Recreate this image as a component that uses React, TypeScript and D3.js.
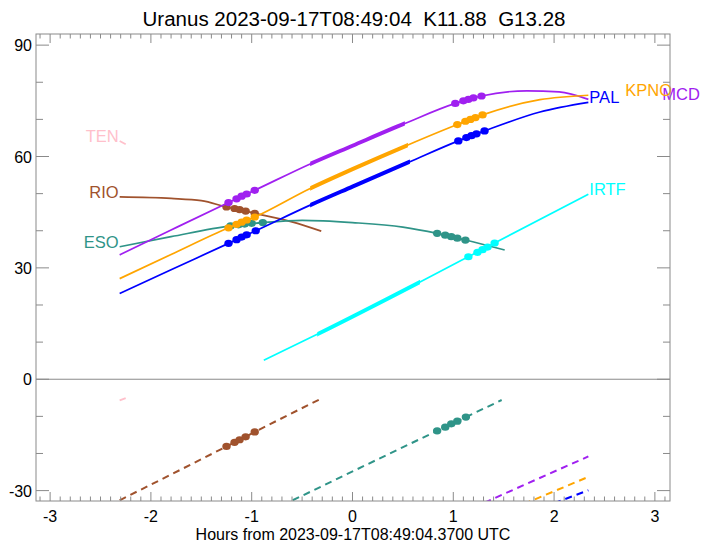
import React from 'react';
import * as d3 from 'd3';

const W = 711;
const H = 544;
const PL = 36, PR = 670, PT = 34, PB = 501;

const TITLE = 'Uranus 2023-09-17T08:49:04\u00A0\u00A0K11.88\u00A0\u00A0G13.28';
const X_TITLE = 'Hours from 2023-09-17T08:49:04.3700 UTC';
const X_MAJOR = [-3, -2, -1, 0, 1, 2, 3];
const Y_MAJOR = [-30, 0, 30, 60, 90];

// elevation curves [hours, degrees]
const TEN_EL = [[-2.31, 64.2], [-2.25, 63.3]];
const RIO_EL = [[-2.31, 49.1], [-1.8, 48.7], [-1.5, 48.1], [-1.25, 46.4], [-0.97, 44.7], [-0.6, 42.4], [-0.31, 39.9]];
const ESO_EL = [[-2.31, 35.7], [-1.8, 38.4], [-1.21, 41.3], [-0.89, 42.2], [-0.5, 42.8], [0, 42.2], [0.5, 41.0], [0.84, 39.3], [1.12, 37.5], [1.51, 34.8]];
const MCD_EL = [[-2.31, 33.5], [-1.8, 40.2], [-1.23, 47.6], [-0.97, 50.9], [-0.42, 58.0], [0, 62.9], [0.52, 68.9], [1.02, 74.3], [1.28, 76.3], [1.73, 77.7], [2.05, 77.4], [2.34, 75.4]];
const KPNO_EL = [[-2.31, 27.1], [-1.8, 33.6], [-1.23, 40.8], [-0.97, 43.7], [-0.42, 51.4], [0, 56.6], [0.55, 63.1], [1.04, 68.6], [1.29, 71.2], [1.86, 75.3], [2.34, 76.5]];
const PAL_EL = [[-2.31, 23.1], [-1.8, 29.5], [-1.23, 36.6], [-0.96, 40.0], [-0.42, 46.9], [0, 51.9], [0.57, 58.6], [1.05, 64.2], [1.31, 66.9], [1.86, 72.0], [2.34, 74.6]];
const IRTF_EL = [[-0.88, 5.1], [-0.35, 12.1], [0.67, 26.2], [1.15, 33.0], [1.41, 36.7], [2.34, 49.8]];

// lower dashed curves
const TEN_LOW = [[-2.31, -5.7], [-2.25, -5.1]];
const RIO_LOW = [[-2.31, -32.6], [-1.25, -18.1], [-0.97, -14.2], [-0.31, -5.2]];
const ESO_LOW = [[-0.7, -34.0], [0.84, -13.9], [1.125, -10.2], [1.48, -5.6]];
const MCD_LOW = [[1.2, -34.6], [1.47, -31.3], [2.34, -20.8]];
const KPNO_LOW = [[1.7, -33.6], [2.34, -26.3]];
const PAL_LOW = [[2.0, -33.4], [2.34, -29.9]];

// observation dots
const RIO_DOTS = [[-1.25, 46.4], [-1.17, 46.0], [-1.12, 45.7], [-1.06, 45.3], [-0.97, 44.7]];
const ESO_DOTS = [[-1.21, 41.3], [-1.13, 41.6], [-1.07, 41.8], [-1.0, 42.0], [-0.89, 42.2], [0.84, 39.3], [0.92, 38.8], [0.98, 38.4], [1.04, 38.0], [1.12, 37.5]];
const MCD_DOTS = [[-1.23, 47.6], [-1.15, 48.6], [-1.1, 49.3], [-1.05, 49.9], [-0.97, 50.9], [1.02, 74.3], [1.1, 75.0], [1.15, 75.4], [1.2, 75.8], [1.28, 76.3]];
const KPNO_DOTS = [[-1.23, 40.8], [-1.15, 41.7], [-1.1, 42.3], [-1.05, 42.9], [-0.97, 43.7], [1.04, 68.6], [1.12, 69.5], [1.17, 70.0], [1.22, 70.5], [1.29, 71.2]];
const PAL_DOTS = [[-1.23, 36.6], [-1.15, 37.6], [-1.1, 38.3], [-1.05, 38.9], [-0.96, 40.0], [1.05, 64.2], [1.13, 65.1], [1.18, 65.6], [1.23, 66.1], [1.31, 66.9]];
const IRTF_DOTS = [[1.15, 33.0], [1.24, 34.2], [1.29, 34.9], [1.34, 35.6], [1.41, 36.7]];
const RIO_LOW_DOTS = [[-1.25, -18.1], [-1.17, -17.0], [-1.12, -16.3], [-1.06, -15.5], [-0.97, -14.2]];
const ESO_LOW_DOTS = [[0.84, -13.9], [0.92, -12.9], [0.98, -12.0], [1.04, -11.3], [1.125, -10.2]];

// thick (observable window) ranges in hours
const MCD_THICK = [-0.42, 0.52];
const KPNO_THICK = [-0.42, 0.55];
const PAL_THICK = [-0.42, 0.57];
const IRTF_THICK = [-0.35, 0.67];

const NAMES = ['TEN', 'RIO', 'ESO', 'MCD', 'KPNO', 'PAL', 'IRTF'];
const COLORS = ['#FFC0CB', '#A0522D', '#2F9488', '#A020F0', '#FFA500', '#0000FF', '#00FFFF'];

const stations = [
  { el: TEN_EL, low: TEN_LOW, dots: [], lowDots: [], thick: null, side: 'left', dx: 0 },
  { el: RIO_EL, low: RIO_LOW, dots: RIO_DOTS, lowDots: RIO_LOW_DOTS, thick: null, side: 'left', dx: 0 },
  { el: ESO_EL, low: ESO_LOW, dots: ESO_DOTS, lowDots: ESO_LOW_DOTS, thick: null, side: 'left', dx: 0 },
  { el: MCD_EL, low: MCD_LOW, dots: MCD_DOTS, lowDots: [], thick: MCD_THICK, side: 'right', dx: 74 },
  { el: KPNO_EL, low: KPNO_LOW, dots: KPNO_DOTS, lowDots: [], thick: KPNO_THICK, side: 'right', dx: 37 },
  { el: PAL_EL, low: PAL_LOW, dots: PAL_DOTS, lowDots: [], thick: PAL_THICK, side: 'right', dx: 1 },
  { el: IRTF_EL, low: [], dots: IRTF_DOTS, lowDots: [], thick: IRTF_THICK, side: 'right', dx: 1 },
].map((s, i) => ({ ...s, name: NAMES[i], color: COLORS[i] }));

const FONT = '"Liberation Sans", Arial, Helvetica, sans-serif';
const AXIS = '#8a8a8a';

export default function App() {
  const x = d3.scaleLinear().domain([-3.14, 3.15]).range([PL, PR]);
  const y = d3.scaleLinear().domain([-32.8, 93]).range([PB, PT]);
  const line = d3.line<number[]>().x(d => x(d[0])).y(d => y(d[1])).curve(d3.curveMonotoneX);

  const xMinor = d3.range(-31, 32).map(v => v / 10).filter(v => Math.abs(v - Math.round(v)) > 1e-6);
  const yMinor = d3.range(-30, 91, 10).filter(v => v % 30 !== 0);

  return (
    <svg width={W} height={H} style={{ position: 'absolute', left: 0, top: 0, background: '#fff' }} fontFamily={FONT}>
      <defs>
        <clipPath id="plot"><rect x={PL} y={PT} width={PR - PL} height={PB - PT} /></clipPath>
        {stations.filter(s => s.thick).map(s => (
          <clipPath id={'thick-' + s.name} key={s.name}>
            <rect x={x(s.thick![0])} y={PT} width={x(s.thick![1]) - x(s.thick![0])} height={PB - PT} />
          </clipPath>
        ))}
      </defs>
      <rect x={0} y={0} width={W} height={H} fill="#fff" />
      <text x={354} y={26} textAnchor="middle" fontSize={19.5} fill="#000" textLength={423} lengthAdjust="spacingAndGlyphs">{TITLE}</text>

      {/* zero line */}
      <line x1={PL} x2={PR} y1={y(0)} y2={y(0)} stroke={AXIS} strokeWidth={1} />

      <g clipPath="url(#plot)">
        {stations.map(s => (
          <g key={s.name}>
            <path d={line(s.el as number[][])!} fill="none" stroke={s.color} strokeWidth={1.7} />
            {s.thick && (
              <path d={line(s.el as number[][])!} fill="none" stroke={s.color} strokeWidth={4} clipPath={`url(#thick-${s.name})`} />
            )}
            {s.low.length > 0 && (
              <path d={line(s.low as number[][])!} fill="none" stroke={s.color} strokeWidth={2} strokeDasharray="7,5" />
            )}
            {(s.dots as number[][]).map((d, j) => (
              <ellipse key={'d' + j} cx={x(d[0])} cy={y(d[1])} rx={4.2} ry={3.6} fill={s.color} />
            ))}
            {(s.lowDots as number[][]).map((d, j) => (
              <ellipse key={'l' + j} cx={x(d[0])} cy={y(d[1])} rx={4.2} ry={3.6} fill={s.color} />
            ))}
          </g>
        ))}
      </g>

      {/* station labels */}
      {stations.map(s => {
        const pts = s.el as number[][];
        if (s.side === 'left') {
          const p = pts[0];
          return <text key={s.name} x={x(p[0]) - 1} y={y(p[1]) + 1} textAnchor="end" fontSize={16.5} fill={s.color}>{s.name}</text>;
        }
        const p = pts[pts.length - 1];
        return <text key={s.name} x={x(p[0]) + s.dx} y={y(p[1]) + 1} textAnchor="start" fontSize={16.5} fill={s.color}>{s.name}</text>;
      })}

      {/* frame */}
      <rect x={PL} y={PT} width={PR - PL} height={PB - PT} fill="none" stroke={AXIS} strokeWidth={1} />

      {/* x ticks */}
      {xMinor.map(v => (
        <g key={'xm' + v}>
          <line x1={x(v)} x2={x(v)} y1={PB} y2={PB - 4.5} stroke={AXIS} />
          <line x1={x(v)} x2={x(v)} y1={PT} y2={PT + 4.5} stroke={AXIS} />
        </g>
      ))}
      {X_MAJOR.map(v => (
        <g key={'xM' + v}>
          <line x1={x(v)} x2={x(v)} y1={PB} y2={PB - 9} stroke={AXIS} />
          <line x1={x(v)} x2={x(v)} y1={PT} y2={PT + 9} stroke={AXIS} />
          <text x={x(v)} y={522} textAnchor="middle" fontSize={16} fill="#000">{v}</text>
        </g>
      ))}
      {/* y ticks */}
      {yMinor.map(v => (
        <g key={'ym' + v}>
          <line x1={PL} x2={PL + 7} y1={y(v)} y2={y(v)} stroke={AXIS} />
          <line x1={PR} x2={PR - 7} y1={y(v)} y2={y(v)} stroke={AXIS} />
        </g>
      ))}
      {Y_MAJOR.map(v => (
        <g key={'yM' + v}>
          <line x1={PL} x2={PL + 13} y1={y(v)} y2={y(v)} stroke={AXIS} />
          <line x1={PR} x2={PR - 13} y1={y(v)} y2={y(v)} stroke={AXIS} />
          <text x={32} y={y(v) + 6} textAnchor="end" fontSize={16} fill="#000">{v}</text>
        </g>
      ))}

      <text x={(PL + PR) / 2} y={539.5} textAnchor="middle" fontSize={16} fill="#000">{X_TITLE}</text>
    </svg>
  );
}
